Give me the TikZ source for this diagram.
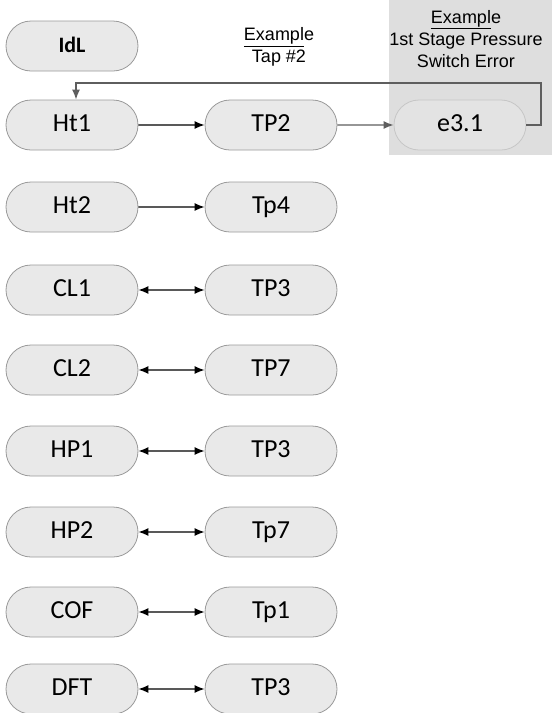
\documentclass[tikz,border=0pt]{standalone}
\usepackage{fontspec}
\setmainfont{Carlito}
\newfontfamily\arialfont{Liberation Sans}
\usetikzlibrary{arrows.meta, shapes.misc}
\definecolor{cfill}{HTML}{E9E9E9}
\definecolor{cedge}{HTML}{9A9A9A}
\definecolor{cshade}{HTML}{DEDEDE}
\definecolor{cdark}{HTML}{5E5E5E}
\tikzset{
  every picture/.style={x=1pt, y=-1pt, line width=1.4pt},
  pill/.style={draw=cedge, fill=cfill, line width=0.8pt, rounded rectangle, minimum width=132pt, minimum height=50pt, inner sep=0pt, text height=17pt, text depth=5pt, font=\fontsize{26}{28}\selectfont},
  pillsoft/.style={pill, draw=gray!45, fill=gray!22},
  oneway/.style={-{Latex[length=10pt, width=8pt]}, draw=black},
  twoway/.style={{Latex[length=10pt, width=8pt]}-{Latex[length=10pt, width=8pt]}, draw=black},
  greyway/.style={-{Latex[length=10pt, width=8pt]}, draw=cdark},
  caption/.style={font=\arialfont\fontsize{18}{22}\selectfont, align=center},
}
\begin{document}
\begin{tikzpicture}
  \useasboundingbox (0,0) rectangle (552,713);
  \fill[cshade] (389,0) rectangle (552,155);

  \node[caption] (capa) at (279,47) {\underline{Exampl}e\\ Tap \#2};
  \node[caption] (capb) at (466,39) {\underline{Exampl}e\\ 1st Stage Pressure\\ Switch Error};

  \node[pill, font=\bfseries\fontsize{22}{24}\selectfont] (idl) at (72,46) {IdL};
  \node[pill] (ht1) at (72,125) {Ht1};
  \node[pill] (tp2) at (271,125) {TP2};
  \node[pillsoft] (e31) at (460,125) {e3.1};

  \node[pill] (ht2) at (72,207) {Ht2};
  \node[pill] (tp4) at (271,207) {Tp4};
  \node[pill] (cl1) at (72,290) {CL1};
  \node[pill] (tp3a) at (271,290) {TP3};
  \node[pill] (cl2) at (72,370) {CL2};
  \node[pill] (tp7a) at (271,370) {TP7};
  \node[pill] (hp1) at (72,451) {HP1};
  \node[pill] (tp3b) at (271,451) {TP3};
  \node[pill] (hp2) at (72,532) {HP2};
  \node[pill] (tp7b) at (271,532) {Tp7};
  \node[pill] (cof) at (72,612) {COF};
  \node[pill] (tp1) at (271,612) {Tp1};
  \node[pill] (dft) at (72,689) {DFT};
  \node[pill] (tp3c) at (271,689) {TP3};

  \draw[oneway] (ht1) -- (tp2);
  \draw[greyway] (tp2) -- (e31);
  \draw[oneway] (ht2) -- (tp4);
  \draw[twoway] (cl1) -- (tp3a);
  \draw[twoway] (cl2) -- (tp7a);
  \draw[twoway] (hp1) -- (tp3b);
  \draw[twoway] (hp2) -- (tp7b);
  \draw[twoway] (cof) -- (tp1);
  \draw[twoway] (dft) -- (tp3c);

  % loop back from the error to Ht1
  \coordinate (turn) at (541,83);
  \draw[greyway] (e31.east) -| (turn) -| ([xshift=4pt]ht1.north);
\end{tikzpicture}
\end{document}
